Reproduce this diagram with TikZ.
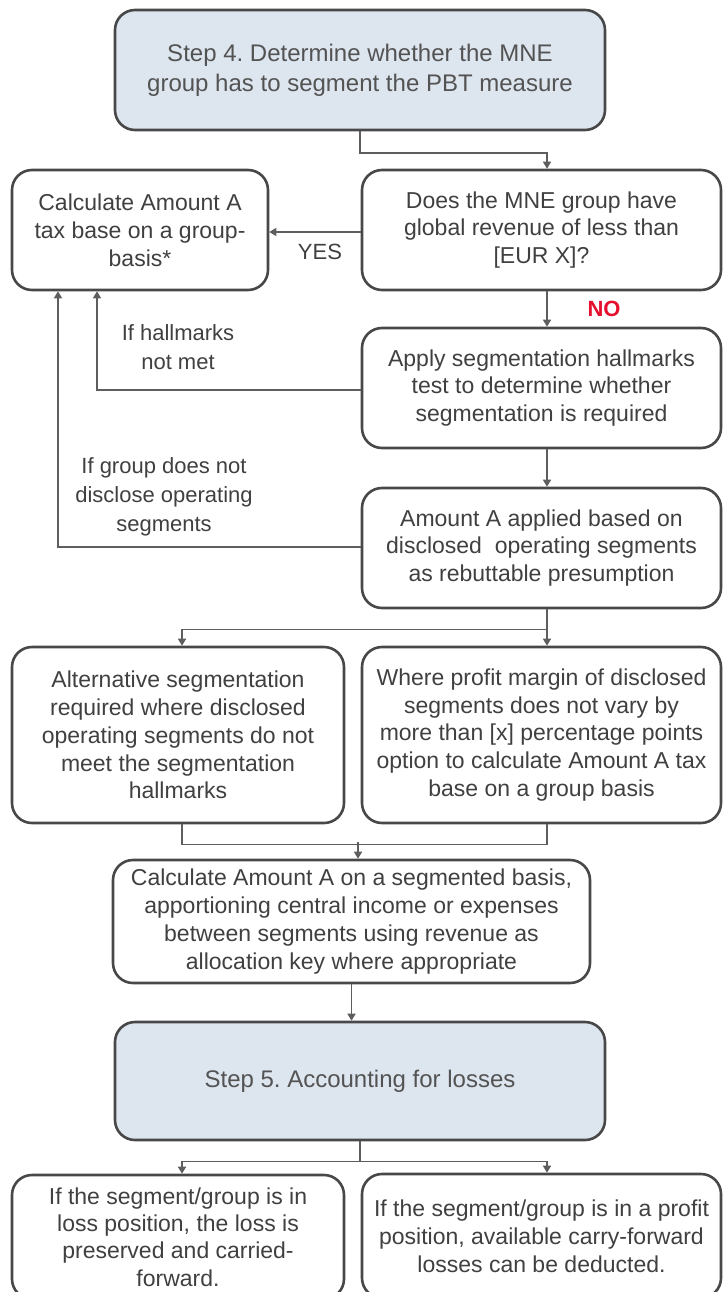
\documentclass[tikz,border=0pt]{standalone}
\usepackage{fontspec}
\setmainfont{Liberation Sans}
\usetikzlibrary{arrows.meta}
\frenchspacing
\definecolor{ink}{HTML}{404040}
\definecolor{edge}{HTML}{484848}
\definecolor{wire}{HTML}{5E5E5E}
\definecolor{stepfill}{HTML}{DDE5EF}
\definecolor{noRed}{HTML}{E5102E}

\tikzset{
  box/.style={draw=edge, line width=2.6pt, rounded corners=20pt, fill=white,
    align=center, text=ink, inner sep=0pt,
    font=\fontsize{23}{27.8}\selectfont},
  stepbox/.style={box, fill=stepfill, text=ink!90, font=\fontsize{24}{30}\selectfont},
  conn/.style={draw=wire, line width=1.6pt},
  arr/.style={conn, -{Triangle[width=8pt,length=7pt]}},
  lbl/.style={text=ink, align=center, inner sep=0pt,
    font=\fontsize{22}{29}\selectfont},
}

\begin{document}
\begin{tikzpicture}[x=1pt,y=-1pt]
\useasboundingbox (0,0) rectangle (724,1292);
\clip (0,0) rectangle (724,1292);
\fill[white] (0,0) rectangle (724,1292);

% column guides for the connectors
\coordinate (cL) at (182,0);
\coordinate (cM) at (358,0);
\coordinate (cR) at (547,0);
\coordinate (hx) at (97,0);
\coordinate (gx) at (58,0);

% boxes
\node[stepbox, minimum width=490, minimum height=120] (step4) at (360,70)
  {Step 4. Determine whether the MNE\\group has to segment the PBT measure};
\node[box, minimum width=256, minimum height=120] (grp) at (140,230)
  {Calculate Amount A\\tax base on a group-\\basis*};
\node[box, minimum width=359, minimum height=120] (rev) at (541.5,230)
  {Does the MNE group have\\global revenue of less than\\{[EUR X]?}};
\node[box, minimum width=359, minimum height=120] (hall) at (541.5,388)
  {Apply segmentation hallmarks\\test to determine whether\\segmentation is required};
\node[box, minimum width=359, minimum height=120] (disc) at (541.5,548)
  {Amount A applied based on\\disclosed\ \ operating segments\\as rebuttable presumption};
\node[box, minimum width=332, minimum height=176] (alt) at (178,735)
  {Alternative segmentation\\required where disclosed\\operating segments do not\\meet the segmentation\\hallmarks};
\node[box, minimum width=359, minimum height=176] (marg) at (541.5,735)
  {Where profit margin of disclosed\\segments does not vary by\\more than [x] percentage points\\option to calculate Amount A tax\\base on a group basis};
\node[box, minimum width=477, minimum height=123] (seg) at (351.5,921.5)
  {Calculate Amount A on a segmented basis,\\apportioning central income or expenses\\between segments using revenue as\\allocation key where appropriate};
\node[stepbox, minimum width=490, minimum height=118] (step5) at (360,1081)
  {Step 5. Accounting for losses};
\node[box, minimum width=332, minimum height=124, font=\fontsize{23}{27.4}\selectfont] (loss) at (178,1237)
  {If the segment/group is in\\loss position, the loss is\\preserved and carried-\\forward.};
\node[box, minimum width=359, minimum height=124] (prof) at (541.5,1236)
  {If the segment/group is in a profit\\position, available carry-forward\\losses can be deducted.};

% labels on the branches
\node[lbl] (yes) at (320,252) {YES};
\node[lbl, text=noRed, font=\fontsize{22}{26}\selectfont\bfseries] (no) at (604,309) {NO};
\node[lbl] (lh) at (178,347) {If hallmarks\\not met};
\node[lbl] (lg) at (164,497) {If group does not\\disclose operating\\segments};

% connectors
\draw[arr] (step4.south) -- ++(0,22) -| (rev.north -| cR);
\draw[arr] (rev.west |- 0,232) -- (grp.east |- 0,232);
\draw[arr] (rev.south -| cR) -- (hall.north -| cR);
\draw[arr] (hall.west |- 0,390) -| (grp.south -| hx);
\draw[arr] (hall.south -| cR) -- (disc.north -| cR);
\draw[arr] (disc.west |- 0,547) -| (grp.south -| gx);
\draw[arr] (disc.south -| cR) -- (marg.north -| cR);
\draw[arr] (disc.south -| cR) ++(0,20) -| (alt.north -| cL);
\draw[conn] (alt.south -| cL) -- ++(0,20) -| (marg.south -| cR);
\draw[arr] (seg.north -| cM) ++(0,-17) -- (seg.north -| cM);
\draw[arr] (seg.south) -- (step5.north -| seg.south);
\draw[conn] (step5.south) -- ++(0,20);
\draw[arr] (step5.south) ++(0,20) -| (loss.north -| cL);
\draw[arr] (step5.south) ++(0,20) -| (prof.north -| cR);
\end{tikzpicture}
\end{document}
